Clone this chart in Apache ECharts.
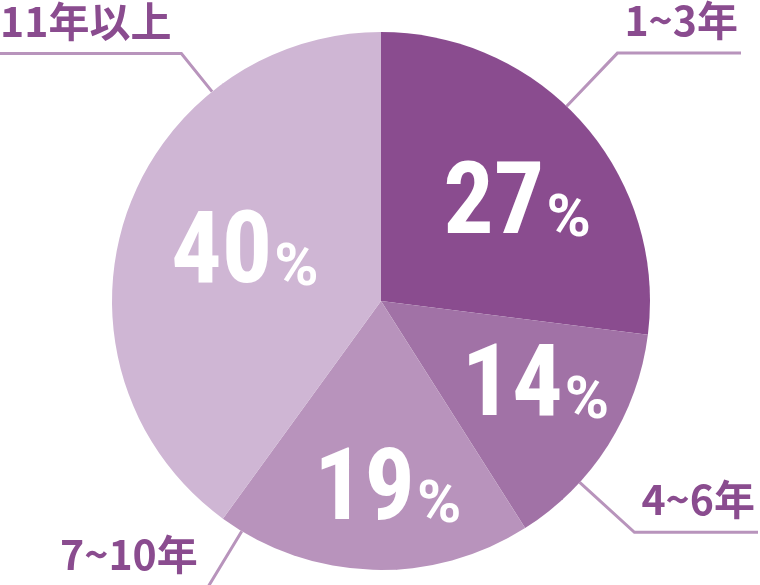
<!DOCTYPE html>
<html>
<head>
<meta charset="utf-8">
<script src="https://cdn.jsdelivr.net/npm/echarts@6/dist/echarts.min.js"></script>
<style>
html, body { margin: 0; padding: 0; background: #fff; }
#chart { width: 760px; height: 585px; }
</style>
</head>
<body>
<div id="chart"></div>
<script>
var categories = ['1~3年', '4~6年', '7~10年', '11年以上'];
var shares = [27, 14, 19, 40];
var sliceColors = ['#8a4c8f', '#a172a6', '#b893bc', '#cfb6d4'];

// label placement only
var numberRadius = [148, 149, 185, 173];
var numberTurn = [-2, 0, 5, 0];
var lineLength = [155, 102, -15, 637];
var edgeDistance = [22, 5, 60, 0];

var CX = 381, CY = 301, R = 269;
var numFont = "'Liberation Sans Narrow', 'Roboto Condensed', 'DejaVu Sans Condensed', sans-serif";
var chart = echarts.init(document.getElementById('chart'));

var total = shares.reduce(function (a, b) { return a + b; }, 0);

var sliceData = categories.map(function (name, i) {
    return { name: name, value: shares[i], itemStyle: { color: sliceColors[i] } };
});
var tagData = categories.map(function (name, i) {
    return {
        name: name,
        value: shares[i],
        label: { edgeDistance: edgeDistance[i] },
        labelLine: { length: lineLength[i] }
    };
});

chart.setOption({
    animation: false,
    series: [
        {
            type: 'pie',
            center: [CX, CY],
            radius: R,
            silent: true,
            emphasis: { disabled: true },
            itemStyle: { borderWidth: 0 },
            data: sliceData,
            label: {
                position: 'inside',
                formatter: function (p) { return '{n|' + p.value + '}{p|%}'; },
                padding: [0, 0, 0, 57],
                rich: {
                    n: { fontFamily: numFont, fontWeight: 'bold', fontSize: 100, lineHeight: 100, color: '#fff', verticalAlign: 'bottom' },
                    p: { fontFamily: 'Roboto', fontWeight: 'bold', fontSize: 60, lineHeight: 60, color: '#fff', verticalAlign: 'bottom', padding: [0, 0, 7, 2] }
                }
            },
            labelLayout: function (params) {
                var i = params.dataIndex;
                var before = 0;
                for (var k = 0; k < i; k++) before += shares[k];
                var a = (before + shares[i] / 2) / total * 2 * Math.PI + numberTurn[i] * Math.PI / 180;
                return {
                    x: CX + numberRadius[i] * Math.sin(a),
                    y: CY - numberRadius[i] * Math.cos(a) + 9,
                    align: 'center',
                    verticalAlign: 'middle'
                };
            }
        },
        {
            type: 'pie',
            center: [CX, CY],
            radius: R,
            silent: true,
            emphasis: { disabled: true },
            avoidLabelOverlap: false,
            itemStyle: { color: 'rgba(0,0,0,0)', borderWidth: 0 },
            data: tagData,
            label: {
                position: 'outside',
                alignTo: 'edge',
                formatter: '{b}',
                fontFamily: 'Noto Sans CJK JP',
                fontWeight: 'bold',
                fontSize: 41,
                lineHeight: 40,
                color: '#8a4c8f'
            },
            labelLine: {
                length2: 0,
                lineStyle: { color: '#b894bc', width: 3 }
            },
            labelLayout: function (params) {
                var b = params.labelRect;
                var lineY = b.y + b.height + 12;
                var right = b.x + b.width / 2 > CX;
                var bendX = right ? b.x - 7 : b.x + b.width + 10;
                var farX = right ? b.x + b.width + 3 : b.x;
                var vx = bendX - CX, vy = lineY - CY;
                var d = Math.sqrt(vx * vx + vy * vy);
                return {
                    labelLinePoints: [
                        [CX + R * vx / d, CY + R * vy / d],
                        [bendX, lineY],
                        [farX, lineY]
                    ]
                };
            }
        }
    ]
});
</script>
</body>
</html>
